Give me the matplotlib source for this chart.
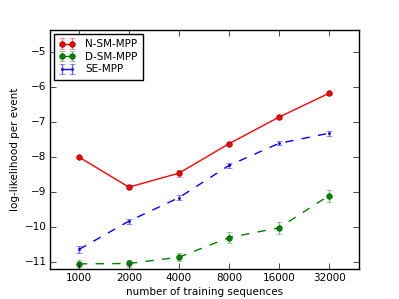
import numpy as np
import matplotlib
matplotlib.use('Agg')
import matplotlib.pyplot as plt

plt.style.use('classic')
plt.rcParams['font.size'] = 7.5
plt.rcParams['savefig.facecolor'] = 'white'
plt.rcParams['figure.facecolor'] = 'white'
plt.rcParams['xtick.major.pad'] = 2.5
plt.rcParams['ytick.major.pad'] = 2.5
plt.rcParams['axes.labelpad'] = 3

sizes = ['1000', '2000', '4000', '8000', '16000', '32000']

n_sm_mpp = [-8.0, -8.86, -8.46, -7.62, -6.86, -6.18]
n_sm_err = [0.04, 0.06, 0.10, 0.06, 0.05, 0.05]

d_sm_mpp = [-11.05, -11.04, -10.86, -10.30, -10.02, -9.10]
d_sm_err = [0.10, 0.10, 0.12, 0.16, 0.17, 0.17]

se_mpp = [-10.64, -9.83, -9.16, -8.24, -7.61, -7.32]
se_err = [0.10, 0.07, 0.07, 0.06, 0.06, 0.07]

x = np.arange(len(sizes))

fig = plt.figure(figsize=(3.99, 2.99), dpi=100)
ax = fig.add_subplot(111)

ax.errorbar(x, n_sm_mpp, yerr=n_sm_err, color='red', ecolor=(1, 0, 0, 0.5),
            linestyle='-', marker='o', markersize=4, markeredgecolor='darkred',
            capsize=2.5, label='N-SM-MPP')
ax.errorbar(x, d_sm_mpp, yerr=d_sm_err, color='green', ecolor=(0, 0.5, 0, 0.5),
            linestyle='--', marker='o', markersize=4, markeredgecolor='darkgreen',
            capsize=2.5, label='D-SM-MPP')
ax.errorbar(x, se_mpp, yerr=se_err, color='blue', ecolor=(0, 0, 1, 0.6),
            linestyle='--', marker='.', markersize=3, markeredgecolor='blue',
            capsize=2.5, label='SE-MPP')

ax.set_xticks(x)
ax.set_xticklabels(sizes)
ax.set_xlim(-0.58, 5.6)
ax.set_ylim(-11.2, -4.37)
ax.set_yticks([-11, -10, -9, -8, -7, -6, -5])
ax.set_xlabel('number of training sequences')
ax.set_ylabel('log-likelihood per event')
ax.legend(loc='upper left', numpoints=2, fontsize=7.5, handlelength=1.5,
          handletextpad=1.0, labelspacing=0.25, borderpad=0.5, borderaxespad=0.4)

plt.savefig('out.png', dpi=100)
